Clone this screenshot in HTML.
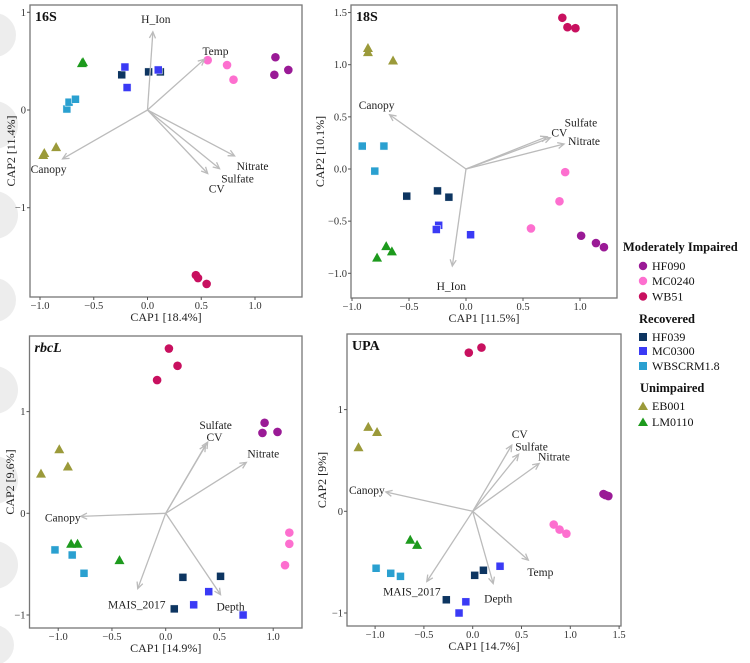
<!DOCTYPE html>
<html><head><meta charset="utf-8"><style>
html,body{margin:0;padding:0;background:#fff;}
svg{display:block;font-family:"Liberation Serif",serif;}
</style></head><body>
<svg id="chart" width="750" height="663" viewBox="0 0 750 663" xmlns="http://www.w3.org/2000/svg">
<g fill="#ededed">
<circle cx="-6" cy="35" r="22"/><circle cx="-6" cy="125" r="24"/><circle cx="-6" cy="215" r="24"/><circle cx="-6" cy="300" r="22"/><circle cx="-6" cy="390" r="24"/><circle cx="-6" cy="480" r="24"/><circle cx="-6" cy="565" r="24"/><circle cx="-6" cy="645" r="20"/>
</g>
<g id="plots"></g>
<g font-size="12" fill="#111">
<text x="623" y="251" font-weight="bold" font-size="12.5">Moderately Impaired</text>
<circle cx="643" cy="266" r="4.2" fill="#9a1a96"/><text x="652" y="270">HF090</text>
<circle cx="643" cy="281" r="4.2" fill="#fd6fcf"/><text x="652" y="285">MC0240</text>
<circle cx="643" cy="296.5" r="4.2" fill="#c8105f"/><text x="652" y="300.5">WB51</text>
<text x="639" y="323" font-weight="bold" font-size="12.5">Recovered</text>
<rect x="639" y="333" width="8" height="8" fill="#0d3561"/><text x="652" y="341">HF039</text>
<rect x="639" y="347" width="8" height="8" fill="#3a3af5"/><text x="652" y="355">MC0300</text>
<rect x="639" y="362" width="8" height="8" fill="#2aa0d0"/><text x="652" y="370">WBSCRM1.8</text>
<text x="640" y="392" font-weight="bold" font-size="12.5">Unimpaired</text>
<path d="M638,410 L643,401.5 L648,410Z" fill="#9b9a3a"/><text x="652" y="410">EB001</text>
<path d="M638,426 L643,417.5 L648,426Z" fill="#1d9a1d"/><text x="652" y="426">LM0110</text>
</g>
</svg>
<script>
// ---- shared categories ----
const groups = ["HF090","MC0240","WB51","HF039","MC0300","WBSCRM1.8","EB001","LM0110"];
const groupShapes = ["circle","circle","circle","square","square","square","triangle","triangle"];
const groupColors = ["#9a1a96","#fd6fcf","#c8105f","#0d3561","#3a3af5","#2aa0d0","#9b9a3a","#1d9a1d"];

// ---- 16S ----
const s16_grp = ["HF090","HF090","HF090","MC0240","MC0240","MC0240","WB51","WB51","WB51","HF039","HF039","HF039","MC0300","MC0300","MC0300","WBSCRM1.8","WBSCRM1.8","WBSCRM1.8","EB001","EB001","EB001","LM0110","LM0110"];
const s16_x = [1.19,1.18,1.31,0.56,0.74,0.80,0.45,0.47,0.55,-0.24,0.01,0.12,-0.21,-0.19,0.10,-0.75,-0.73,-0.67,-0.97,-0.96,-0.85,-0.60,-0.61];
const s16_y = [0.54,0.36,0.41,0.51,0.46,0.31,-1.69,-1.72,-1.78,0.36,0.39,0.39,0.44,0.23,0.41,0.01,0.08,0.11,-0.46,-0.44,-0.38,0.49,0.48];
const s16_arrowNames = ["H_Ion","Temp","Canopy","Nitrate","Sulfate","CV"];
const s16_arrowX = [0.05,0.53,-0.79,0.81,0.67,0.56];
const s16_arrowY = [0.80,0.52,-0.50,-0.47,-0.60,-0.65];
const s16_xTicks = [-1.0,-0.5,0.0,0.5,1.0];
const s16_yTicks = [1,0,-1];

// ---- 18S ----
const s18_grp = ["WB51","WB51","WB51","HF090","HF090","HF090","MC0240","MC0240","MC0240","HF039","HF039","HF039","MC0300","MC0300","MC0300","WBSCRM1.8","WBSCRM1.8","WBSCRM1.8","EB001","EB001","EB001","LM0110","LM0110","LM0110"];
const s18_x = [0.845,0.89,0.96,1.01,1.14,1.21,0.87,0.82,0.57,-0.52,-0.25,-0.15,-0.24,-0.26,0.04,-0.91,-0.72,-0.80,-0.86,-0.86,-0.64,-0.70,-0.65,-0.78];
const s18_y = [1.45,1.36,1.35,-0.64,-0.71,-0.75,-0.03,-0.31,-0.57,-0.26,-0.21,-0.27,-0.54,-0.58,-0.63,0.22,0.22,-0.02,1.16,1.12,1.04,-0.74,-0.79,-0.85];
const s18_arrowNames = ["Canopy","Sulfate","CV","Nitrate","H_Ion"];
const s18_arrowX = [-0.67,0.71,0.74,0.86,-0.12];
const s18_arrowY = [0.52,0.31,0.30,0.24,-0.93];
const s18_xTicks = [-1.0,-0.5,0.0,0.5,1.0];
const s18_yTicks = [1.5,1.0,0.5,0.0,-0.5,-1.0];

// ---- rbcL ----
const rbc_grp = ["WB51","WB51","WB51","HF090","HF090","HF090","MC0240","MC0240","MC0240","HF039","HF039","HF039","MC0300","MC0300","MC0300","WBSCRM1.8","WBSCRM1.8","WBSCRM1.8","EB001","EB001","EB001","LM0110","LM0110","LM0110"];
const rbc_x = [0.03,0.11,-0.08,0.92,0.90,1.04,1.15,1.15,1.11,0.16,0.51,0.08,0.40,0.26,0.72,-1.03,-0.87,-0.76,-0.99,-0.91,-1.16,-0.88,-0.82,-0.43];
const rbc_y = [1.62,1.45,1.31,0.89,0.79,0.80,-0.19,-0.30,-0.51,-0.63,-0.62,-0.94,-0.77,-0.90,-1.00,-0.36,-0.41,-0.59,0.63,0.46,0.39,-0.30,-0.30,-0.46];
const rbc_arrowNames = ["Sulfate","CV","Nitrate","Canopy","MAIS_2017","Depth"];
const rbc_arrowX = [0.39,0.37,0.75,-0.79,-0.26,0.51];
const rbc_arrowY = [0.70,0.67,0.50,-0.03,-0.74,-0.80];
const rbc_xTicks = [-1.0,-0.5,0.0,0.5,1.0];
const rbc_yTicks = [1,0,-1];

// ---- UPA ----
const upa_grp = ["WB51","WB51","HF090","HF090","HF090","MC0240","MC0240","MC0240","HF039","HF039","HF039","MC0300","MC0300","MC0300","WBSCRM1.8","WBSCRM1.8","WBSCRM1.8","EB001","EB001","EB001","LM0110","LM0110"];
const upa_x = [-0.04,0.09,1.34,1.39,1.36,0.83,0.89,0.96,-0.27,0.02,0.11,-0.14,-0.07,0.28,-0.99,-0.84,-0.74,-1.07,-0.98,-1.17,-0.64,-0.57];
const upa_y = [1.56,1.61,0.17,0.15,0.16,-0.13,-0.18,-0.22,-0.87,-0.63,-0.58,-1.00,-0.89,-0.54,-0.56,-0.61,-0.64,0.83,0.78,0.63,-0.28,-0.33];
const upa_arrowNames = ["CV","Sulfate","Nitrate","Canopy","Temp","Depth","MAIS_2017"];
const upa_arrowX = [0.40,0.47,0.68,-0.89,0.57,0.21,-0.47];
const upa_arrowY = [0.65,0.56,0.47,0.19,-0.48,-0.71,-0.69];
const upa_xTicks = [-1.0,-0.5,0.0,0.5,1.0,1.5];
const upa_yTicks = [1,0,-1];

// ---- layout (pixels; not data) ----
const panels = [
 {id:"16s", title:"16S", italic:false, box:[30,5,302,297], cx:147.5, sx:107.5, cy:110, sy:97.7, ytx:15,
  xlab:"CAP1   [18.4%]", ylab:"CAP2   [11.4%]", grp:s16_grp, xs:s16_x, ys:s16_y,
  an:s16_arrowNames, ax:s16_arrowX, ay:s16_arrowY, lo:[[3,-13],[11,-8],[-14,10],[18,10],[18,10],[9,15]],
  xt:s16_xTicks, yt:s16_yTicks, ydec:false},
 {id:"18s", title:"18S", italic:false, box:[351,5,617,298], cx:466, sx:114, cy:169, sy:104.3, ytx:324,
  xlab:"CAP1   [11.5%]", ylab:"CAP2   [10.1%]", grp:s18_grp, xs:s18_x, ys:s18_y,
  an:s18_arrowNames, ax:s18_arrowX, ay:s18_arrowY, lo:[[-13,-10],[34,-14],[9,-5],[20,-3],[-1,20]],
  xt:s18_xTicks, yt:s18_yTicks, ydec:true},
 {id:"rbcl", title:"rbcL", italic:true, box:[29.5,336,302,628], cx:165.7, sx:107.5, cy:513.3, sy:101.7, ytx:14,
  xlab:"CAP1   [14.9%]", ylab:"CAP2   [9.6%]", grp:rbc_grp, xs:rbc_x, ys:rbc_y,
  an:rbc_arrowNames, ax:rbc_arrowX, ay:rbc_arrowY, lo:[[8,-17],[9,-8],[17,-9],[-18,1],[-1,16],[10,12]],
  xt:rbc_xTicks, yt:rbc_yTicks, ydec:false},
 {id:"upa", title:"UPA", italic:false, box:[347,334,621,626], cx:472.7, sx:97.6, cy:511.3, sy:101.7, ytx:326,
  xlab:"CAP1   [14.7%]", ylab:"CAP2   [9%]", grp:upa_grp, xs:upa_x, ys:upa_y,
  an:upa_arrowNames, ax:upa_arrowX, ay:upa_arrowY, lo:[[8,-11],[13,-8],[15,-7],[-19,-2],[12,12],[5,15],[-15,10]],
  xt:upa_xTicks, yt:upa_yTicks, ydec:false}
];

const NS = "http://www.w3.org/2000/svg";
function mk(tag, attrs, parent){ const e=document.createElementNS(NS,tag); for(const k in attrs) e.setAttribute(k,attrs[k]); if(parent) parent.appendChild(e); return e; }
function fmt(v, dec){ const s = dec ? v.toFixed(1) : String(v); return s.replace("-", "\u2212"); }
const root = document.getElementById("plots");

panels.forEach(p => {
  const g = mk("g", {}, root);
  
  
  const [x0,y0,x1,y1] = p.box;
  const X = v => p.cx + v*p.sx, Y = v => p.cy - v*p.sy;
  const frame = mk("rect", {x:x0, y:y0, width:x1-x0, height:y1-y0, fill:"#fff", stroke:"#777", "stroke-width":1.3}, g);
  
  
  p.xt.forEach(v => {
    mk("line", {x1:X(v), x2:X(v), y1:y1, y2:y1+3, stroke:"#555"}, g);
    const t = mk("text", {x:X(v), y:y1+12, "text-anchor":"middle", "font-size":10.5, fill:"#333"}, g);
    t.textContent = fmt(v, true);
    
    
  });
  p.yt.forEach(v => {
    mk("line", {x1:x0-3, x2:x0, y1:Y(v), y2:Y(v), stroke:"#555"}, g);
    const t = mk("text", {x:x0-4, y:Y(v)+3.5, "text-anchor":"end", "font-size":10.5, fill:"#333"}, g);
    t.textContent = fmt(v, p.ydec);
    
    
  });
  const xl = mk("text", {x:(x0+x1)/2, y:y1+24, "text-anchor":"middle", "font-size":12, fill:"#222", "xml:space":"preserve"}, g);
  xl.textContent = p.xlab;
  
  
  const yc = (y0+y1)/2, yx = p.ytx;
  const yl = mk("text", {x:yx, y:yc, "text-anchor":"middle", "font-size":12, fill:"#222", transform:`rotate(-90 ${yx} ${yc})`, "xml:space":"preserve"}, g);
  yl.textContent = p.ylab;
  
  
  const tt = mk("text", {x:x0+5, y:y0+16, "font-size":14, "font-weight":"bold", "font-style":p.italic?"italic":"normal", fill:"#111"}, g);
  tt.textContent = p.title;
  
  
  p.xs.forEach((xv,i) => {
    const gi = groups.indexOf(p.grp[i]);
    const shape = groupShapes[gi], col = groupColors[gi];
    const px = X(xv), py = Y(p.ys[i]);
    let el;
    if (shape==="circle") el = mk("circle", {cx:px, cy:py, r:4.3, fill:col}, g);
    else if (shape==="square") el = mk("rect", {x:px-4, y:py-4, width:8, height:8, fill:col, stroke:"#fff", "stroke-width":0.5}, g);
    else el = mk("path", {d:`M${px-5},${py+4} L${px},${py-5} L${px+5},${py+4}Z`, fill:col}, g);
    
    
  });
  const ox = X(0), oy = Y(0);
  p.an.forEach((name,i) => {
    const ex = X(p.ax[i]), ey = Y(p.ay[i]);
    const ln = mk("line", {x1:ox, y1:oy, x2:ex, y2:ey, stroke:"#bbb", "stroke-width":1.3}, g);
    
    
    const ang = Math.atan2(ey-oy, ex-ox), L=7, w=0.45;
    mk("polyline", {points:`${ex-L*Math.cos(ang-w)},${ey-L*Math.sin(ang-w)} ${ex},${ey} ${ex-L*Math.cos(ang+w)},${ey-L*Math.sin(ang+w)}`, fill:"none", stroke:"#bbb", "stroke-width":1.3}, g);
    const lb = mk("text", {x:ex+p.lo[i][0], y:ey+p.lo[i][1]+4, "text-anchor":"middle", "font-size":11.5, fill:"#222"}, g);
    lb.textContent = name;
    
    
  });
});
</script>
</body></html>
